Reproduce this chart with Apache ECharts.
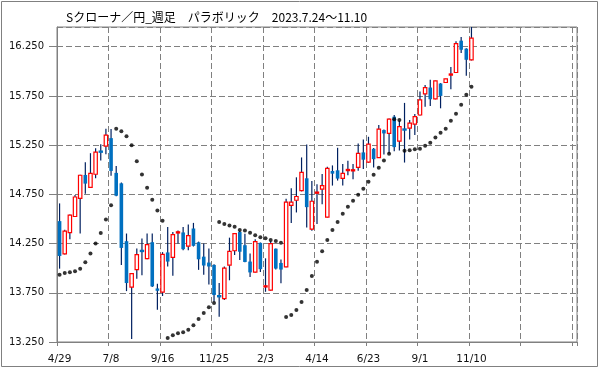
<!DOCTYPE html>
<html>
<head>
<meta charset="utf-8">
<script src="https://cdn.jsdelivr.net/npm/echarts@6/dist/echarts.min.js"></script>
<style>html,body{margin:0;padding:0;background:#fff;}#c{width:599px;height:369px;}</style>
</head>
<body>
<div id="c"></div>
<script>
const weeks = ['4/29','5/6','5/13','5/20','5/27','6/3','6/10','6/17','6/24','7/1',
'7/8','7/15','7/22','7/29','8/5','8/12','8/19','8/26','9/2','9/9',
'9/16','9/23','9/30','10/7','10/14','10/21','10/28','11/4','11/11','11/18',
'11/25','12/2','12/9','12/16','12/23','12/30','1/6','1/13','1/20','1/27',
'2/3','2/10','2/17','2/24','3/3','3/10','3/17','3/24','3/31','4/7',
'4/14','4/21','4/28','5/5','5/12','5/19','5/26','6/2','6/9','6/16',
'6/23','6/30','7/7','7/14','7/21','7/28','8/4','8/11','8/18','8/25',
'9/1','9/8','9/15','9/22','9/29','10/6','10/13','10/20','10/27','11/3',
'11/10'];
const futureWeeks = 20;

const openV = [14.478,14.145,14.362,14.525,14.709,14.947,14.821,14.954,15.192,15.240,
15.321,14.968,14.862,14.274,13.808,13.985,14.185,14.097,14.264,13.794,
13.757,14.160,14.110,14.357,14.363,14.223,14.403,14.263,14.117,14.057,
14.033,13.723,13.690,14.030,14.177,14.367,14.233,14.067,13.960,14.257,
13.810,13.777,14.198,14.053,14.013,14.637,14.690,14.788,14.913,14.397,
14.762,14.802,14.519,14.987,14.994,14.913,14.992,14.984,15.024,15.176,
15.077,15.213,15.124,15.403,15.369,15.539,15.291,15.417,15.423,15.464,
15.556,15.770,15.835,15.719,15.876,15.886,15.962,15.988,16.311,16.230,
16.117];
const highV = [14.658,14.390,14.545,14.743,14.950,15.077,15.168,15.219,15.260,15.417,
15.414,15.039,14.870,14.352,13.950,14.199,14.301,14.352,14.352,13.842,
14.163,14.417,14.367,14.383,14.417,14.443,14.460,14.270,14.250,14.200,
14.040,13.850,14.017,14.310,14.350,14.377,14.350,14.150,14.293,14.260,
14.100,14.273,14.200,14.087,14.704,14.812,14.923,15.125,15.257,14.886,
14.852,14.957,15.031,15.044,15.223,15.058,15.092,15.058,15.267,15.307,
15.335,15.220,15.454,15.410,15.520,15.556,15.498,15.679,15.505,15.566,
15.794,15.862,15.913,15.905,15.880,15.925,16.043,16.304,16.349,16.235,
16.450];
const lowV = [13.995,14.140,14.294,14.520,14.352,14.757,14.815,14.913,15.094,15.158,
14.940,14.730,14.032,13.767,13.281,13.893,13.927,14.090,13.810,13.577,
13.717,14.017,13.923,14.250,14.183,14.183,14.220,13.983,13.933,13.833,
13.660,13.507,13.677,13.877,14.133,14.083,14.060,13.910,13.955,13.960,
13.760,13.770,13.986,13.848,14.010,14.458,14.566,14.780,14.414,14.380,
14.448,14.650,14.515,14.839,14.890,14.839,14.943,14.903,14.990,15.007,
15.070,15.022,15.120,15.155,15.165,15.189,15.196,15.073,15.308,15.352,
15.550,15.641,15.648,15.715,15.624,15.880,15.818,15.985,16.185,15.954,
16.110];
const closeV = [14.124,14.376,14.539,14.723,14.944,14.859,14.964,15.179,15.175,15.352,
14.988,14.736,14.206,13.849,13.944,14.138,14.165,14.240,13.815,13.770,
14.140,14.067,14.340,14.370,14.193,14.330,14.227,14.090,14.027,14.017,
13.727,13.707,14.000,14.170,14.350,14.167,14.063,13.957,14.270,13.990,
13.820,14.249,13.996,13.986,14.670,14.670,14.728,14.974,14.620,14.680,
14.772,14.839,15.014,14.960,14.910,14.964,15.002,15.004,15.166,15.102,
15.260,15.107,15.413,15.369,15.515,15.230,15.437,15.400,15.474,15.539,
15.709,15.835,15.716,15.903,15.750,15.923,15.972,16.281,16.219,16.117,
16.338];
const sarV = [13.934,13.952,13.958,13.968,13.995,14.060,14.148,14.250,14.358,14.494,
14.639,15.416,15.392,15.341,15.249,15.087,14.951,14.816,14.694,14.585,
14.481,13.291,13.318,13.338,13.350,13.375,13.420,13.484,13.545,13.602,
13.647,14.470,14.450,14.433,14.420,14.389,14.382,14.359,14.334,14.314,
14.304,14.287,14.275,14.257,13.504,13.525,13.575,13.657,13.779,13.921,
14.064,14.171,14.287,14.389,14.470,14.552,14.623,14.684,14.745,14.806,
14.877,14.948,15.020,15.095,15.162,15.514,15.504,15.192,15.199,15.209,
15.213,15.243,15.274,15.328,15.375,15.416,15.497,15.569,15.660,15.762,
15.843];

const titleText = 'Sクローナ／円_週足　パラボリック　2023.7.24～11.10';
const yMin = 13.25, yMax = 16.45, yStep = 0.5;

const categories = weeks.concat(new Array(futureWeeks).fill(''));
const candleData = openV.map((o, i) => [i, o, closeV[i], lowV[i], highV[i]]);
const sarData = sarV.map((v, i) => [i, v]);

const chart = echarts.init(document.getElementById('c'), null, {renderer: 'canvas'});
const gridCol = '#808080';
const labelFont = 'DejaVu Sans';

chart.setOption({
  animation: false,
  backgroundColor: '#fff',
  title: {
    text: titleText, left: 61, top: 6,
    textStyle: {fontFamily: 'Noto Sans CJK JP', fontSize: 12, fontWeight: 'normal', color: '#000'}
  },
  graphic: [{
    type: 'rect', silent: true,
    shape: {x: 1.5, y: 1.5, width: 596, height: 365},
    style: {fill: 'none', stroke: '#808080', lineWidth: 1}
  }],
  grid: {left: 57, top: 27, right: 22, bottom: 27, show: true, borderColor: gridCol, borderWidth: 1, backgroundColor: 'transparent'},
  xAxis: {
    type: 'category', data: categories, boundaryGap: true,
    axisLine: {lineStyle: {color: gridCol, width: 1}},
    axisTick: {show: true, interval: 9, length: 4, lineStyle: {color: gridCol}},
    axisLabel: {interval: 9, margin: 12, color: '#111', fontFamily: labelFont, fontSize: 10.5},
    splitLine: {show: true, interval: 9, lineStyle: {color: gridCol, type: [6, 3], width: 1}}
  },
  yAxis: {
    type: 'value', min: yMin, max: yMax, interval: yStep, scale: true,
    axisLine: {show: true, lineStyle: {color: gridCol, width: 1}},
    axisTick: {show: true, length: 8, lineStyle: {color: gridCol}},
    axisLabel: {margin: 13, color: '#111', fontFamily: labelFont, fontSize: 10, showMaxLabel: false,
      formatter: v => v.toFixed(3)},
    splitLine: {show: true, lineStyle: {color: gridCol, type: [6, 3], width: 1}}
  },
  series: [{
    type: 'custom',
    clip: true,
    data: candleData,
    encode: {x: 0, y: [1, 2, 3, 4]},
    renderItem: function (params, api) {
      const i = api.value(0);
      const o = api.value(1), c = api.value(2), l = api.value(3), h = api.value(4);
      const pH = api.coord([i, h]);
      const pL = api.coord([i, l]);
      const pO = api.coord([i, o]);
      const pC = api.coord([i, c]);
      const x = pH[0];
      const children = [{
        type: 'line',
        shape: {x1: x, y1: pH[1], x2: x, y2: pL[1]},
        style: {stroke: '#002060', lineWidth: 1.2}
      }];
      const top = Math.min(pO[1], pC[1]);
      const bot = Math.max(pO[1], pC[1]);
      const up = c >= o;
      if (bot - top < 2) {
        const mid = (top + bot) / 2;
        children.push({type: 'rect', shape: {x: x - 2.2, y: mid - 1.2, width: 4.4, height: 2.4},
          style: {fill: up ? '#ff0000' : '#0070c0'}});
      } else if (up) {
        children.push({type: 'rect', shape: {x: x - 1.7, y: top, width: 3.4, height: bot - top},
          style: {fill: '#fff', stroke: '#ff0000', lineWidth: 1.2}});
      } else {
        children.push({type: 'rect', shape: {x: x - 1.8, y: top, width: 3.6, height: bot - top},
          style: {fill: '#0070c0'}});
      }
      return {type: 'group', children: children};
    }
  }, {
    type: 'scatter',
    data: sarData,
    symbol: 'circle',
    symbolSize: 4,
    itemStyle: {color: '#000'},
    z: 3
  }]
});
</script>
</body>
</html>
